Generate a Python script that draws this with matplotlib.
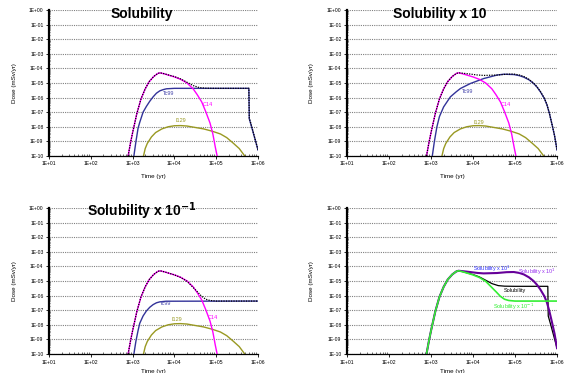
import numpy as np
import matplotlib
matplotlib.use("Agg")
import matplotlib.pyplot as plt
from matplotlib.ticker import LogLocator, FuncFormatter, NullFormatter

plt.rcParams['font.family'] = ['Liberation Sans', 'DejaVu Sans']

# ---- data (time in yr, dose in mSv/yr) ----
t_c14 = [780, 890, 1000, 1260, 1580, 2000, 2500, 3200, 4000, 4500, 5600, 7900,
         1.0e4, 1.4e4, 2.0e4, 2.8e4, 3.5e4, 4.5e4, 5.6e4, 7.1e4, 8.3e4, 9.5e4, 1.05e5]
d_c14 = [1e-10, 7.9e-10, 4.0e-9, 7.9e-8, 7.9e-7, 4.0e-6, 1.26e-5, 2.8e-5, 4.5e-5, 5.0e-5,
         4.3e-5, 3.2e-5, 2.6e-5, 1.8e-5, 1.0e-5, 4.0e-6, 1.6e-6, 5.0e-7, 1.1e-7, 1.8e-8,
         3.2e-9, 4.0e-10, 1e-10]

t_i129 = [1820, 2000, 2240, 2820, 3550, 5000, 7100, 1.0e4, 1.41e4, 2.0e4, 3.16e4, 5.0e4,
          7.9e4, 1.26e5, 1.78e5, 2.5e5, 3.55e5, 4.8e5]
d_i129 = [1e-10, 3.2e-10, 7.1e-10, 2.0e-9, 4.0e-9, 7.1e-9, 1.0e-8, 1.17e-8, 1.2e-8, 1.12e-8,
          8.9e-9, 7.1e-9, 5.0e-9, 3.2e-9, 1.8e-9, 7.9e-10, 3.2e-10, 1e-10]

# Tc99, one per solubility case
t_tc_sol = [1072, 1202, 1349, 1479, 1778, 2138, 2570, 3090, 3715, 4467, 5370, 6457, 1.0e4,
            6.03e5, 6.17e5, 7.08e5, 1.0e6]
d_tc_sol = [1e-10, 1e-9, 7.9e-9, 2.0e-8, 1.0e-7, 2.5e-7, 5.6e-7, 1.12e-6, 2.0e-6, 2.9e-6,
            3.5e-6, 4.0e-6, 4.3e-6, 4.3e-6, 3.5e-8, 8.9e-9, 2.5e-10]

t_tc_x10 = [1072, 1202, 1380, 1585, 1995, 2884, 3981, 5012, 8710, 1.778e4, 3.715e4, 5.37e4,
            9.33e4, 1.26e5, 1.62e5, 2.14e5, 2.75e5, 3.31e5, 3.98e5, 5.01e5, 5.75e5, 6.61e5,
            7.59e5, 8.71e5, 1.0e6]
d_tc_x10 = [1e-10, 1e-9, 1e-8, 5.0e-8, 2.3e-7, 1.12e-6, 2.5e-6, 4.2e-6, 9.3e-6, 2.0e-5,
            3.5e-5, 4.0e-5, 3.8e-5, 3.2e-5, 2.5e-5, 1.66e-5, 9.5e-6, 5.4e-6, 2.6e-6, 8.5e-7,
            3.2e-7, 7.9e-8, 1.45e-8, 2.5e-9, 2.5e-10]

t_tc_x01 = [1072, 1202, 1349, 1479, 1778, 2138, 2570, 3090, 3715, 4467, 6310, 1.0e6]
d_tc_x01 = [1e-10, 7.9e-10, 4.0e-9, 1.26e-8, 4.0e-8, 8.9e-8, 1.58e-7, 2.4e-7, 3.2e-7,
            3.7e-7, 4.1e-7, 4.2e-7]

# total dose, one per solubility case
t_tot_sol = [780, 890, 1000, 1260, 1580, 2000, 2500, 3200, 4000, 4500, 5600, 7900, 1.0e4,
             1.41e4, 2.0e4, 2.82e4, 3.98e4, 5.62e4, 1.0e5, 6.03e5, 6.17e5, 7.08e5, 1.0e6]
d_tot_sol = [1e-10, 7.9e-10, 4.0e-9, 7.9e-8, 7.9e-7, 4.0e-6, 1.26e-5, 2.8e-5, 4.5e-5, 5.0e-5,
             4.4e-5, 3.3e-5, 2.75e-5, 1.9e-5, 1.12e-5, 6.6e-6, 4.8e-6, 4.4e-6, 4.3e-6, 4.3e-6,
             4.0e-8, 1.0e-8, 2.5e-10]

t_tot_x10 = [780, 890, 1000, 1260, 1580, 2000, 2500, 3200, 4000, 4500, 5620, 7940, 1.26e4,
             1.78e4, 3.72e4, 6.31e4, 9.33e4, 1.26e5, 1.62e5, 2.14e5, 2.75e5, 3.31e5, 3.98e5,
             5.01e5, 5.75e5, 6.61e5, 7.59e5, 8.71e5, 1.0e6]
d_tot_x10 = [1e-10, 7.9e-10, 4.0e-9, 7.9e-8, 7.9e-7, 4.0e-6, 1.26e-5, 2.8e-5, 4.5e-5, 5.0e-5,
             4.7e-5, 4.2e-5, 3.55e-5, 3.3e-5, 3.5e-5, 4.0e-5, 4.1e-5, 3.55e-5, 2.8e-5, 1.78e-5,
             1.0e-5, 5.6e-6, 2.7e-6, 8.9e-7, 3.3e-7, 7.9e-8, 1.45e-8, 2.5e-9, 2.5e-10]

t_tot_x01 = [780, 890, 1000, 1260, 1580, 2000, 2500, 3200, 4000, 4500, 5620, 7940, 1.0e4,
             1.41e4, 2.0e4, 2.82e4, 3.55e4, 4.47e4, 5.62e4, 7.08e4, 1.0e5, 1.0e6]
d_tot_x01 = [1e-10, 7.9e-10, 4.0e-9, 7.9e-8, 7.9e-7, 4.0e-6, 1.26e-5, 2.8e-5, 4.5e-5, 5.0e-5,
             4.3e-5, 3.2e-5, 2.6e-5, 1.74e-5, 9.5e-6, 3.5e-6, 1.8e-6, 8.9e-7, 5.6e-7, 4.6e-7,
             4.2e-7, 4.2e-7]

C_C14 = '#ff00ff'
C_TC = '#333399'
C_I = '#999922'


def e_fmt(v, pos):
    return "1E%+03d" % int(round(np.log10(v)))


def setup(ax, xlab_y=-0.125):
    ax.set_xscale('log')
    ax.set_yscale('log')
    ax.set_xlim(1e1, 1e6)
    ax.set_ylim(1e-10, 1e0)
    ax.xaxis.set_major_locator(LogLocator(base=10, numticks=10))
    ax.yaxis.set_major_locator(LogLocator(base=10, numticks=12))
    ax.xaxis.set_minor_locator(LogLocator(base=10, subs=np.arange(2, 10), numticks=20))
    ax.yaxis.set_minor_locator(LogLocator(base=10, subs=np.arange(2, 10), numticks=20))
    ax.xaxis.set_major_formatter(FuncFormatter(e_fmt))
    ax.yaxis.set_major_formatter(FuncFormatter(e_fmt))
    ax.xaxis.set_minor_formatter(NullFormatter())
    ax.yaxis.set_minor_formatter(NullFormatter())
    ax.tick_params(which='major', labelsize=3.6, length=2.5, width=0.6, pad=1.5)
    ax.tick_params(axis='x', which='minor', direction='in', length=1.5, width=0.4)
    ax.tick_params(axis='y', which='minor', direction='inout', length=2, width=0.4)
    for s in ['top', 'right']:
        ax.spines[s].set_visible(False)
    ax.spines['left'].set_linewidth(1.6)
    ax.spines['bottom'].set_linewidth(0.9)
    ax.set_axisbelow(True)
    ax.grid(True, which='major', axis='y', color='0.5', linestyle=(0, (1, 1)), linewidth=0.8)
    ax.set_xlabel('Time (yr)', fontsize=4.5)
    ax.set_ylabel('Dose (mSv/yr)', fontsize=4.5)
    ax.xaxis.set_label_coords(0.5, xlab_y)
    ax.yaxis.set_label_coords(-0.155, 0.5)


def nuclide_panel(ax, t_tc, d_tc, t_tot, d_tot, title, labels, xlab_y=-0.125):
    setup(ax, xlab_y)
    ax.plot(t_i129, d_i129, color=C_I, lw=1.0)
    ax.plot(t_tc, d_tc, color=C_TC, lw=1.0)
    ax.plot(t_c14, d_c14, color=C_C14, lw=1.0)
    ax.plot(t_tot, d_tot, color='black', lw=0.9, linestyle=(0, (1, 1)))
    for txt, col, (x, y) in zip(['Tc99', 'C14', 'I129'], ['#4444aa', C_C14, C_I], labels):
        ax.text(x, y, txt, color=col, fontsize=4, ha='center', va='center')
    ax.text(0.443, 0.975, title, transform=ax.transAxes, ha='center', va='center',
            fontsize=10, fontweight='bold')


fig = plt.figure(figsize=(5.68, 3.73), dpi=100)
ax1 = fig.add_axes([0.0863, 0.582, 0.368, 0.391])
ax2 = fig.add_axes([0.611, 0.582, 0.3697, 0.391])
ax3 = fig.add_axes([0.0863, 0.051, 0.368, 0.3915])
ax4 = fig.add_axes([0.611, 0.051, 0.3697, 0.3915])

nuclide_panel(ax1, t_tc_sol, d_tc_sol, t_tot_sol, d_tot_sol, 'Solubility',
              [(7400, 2e-6), (6.3e4, 3.2e-7), (1.45e4, 2.5e-8)])
nuclide_panel(ax2, t_tc_x10, d_tc_x10, t_tot_x10, d_tot_x10, 'Solubility x 10',
              [(7400, 2.5e-6), (6.2e4, 3.3e-7), (1.35e4, 2.1e-8)])
nuclide_panel(ax3, t_tc_x01, d_tc_x01, t_tot_x01, d_tot_x01, 'Solubility x 10$^{\\mathbf{-1}}$',
              [(6300, 2.7e-7), (8.3e4, 3.3e-8), (1.15e4, 2.3e-8)], xlab_y=-0.105)

# comparison of total dose
setup(ax4, xlab_y=-0.105)
ax4.plot(t_tot_sol, d_tot_sol, color='black', lw=0.9)
ax4.plot(t_tot_x10, d_tot_x10, color='#660099', lw=1.5)
ax4.plot(t_tot_x01, d_tot_x01, color='#33ee33', lw=1.2)
ax4.text(2.8e4, 6.9e-5, 'Solubility x 10$^1$', color='#3333ff', fontsize=4, ha='center', va='center')
ax4.text(3.3e5, 4.4e-5, 'Solubility x 10$^1$', color='#9933ee', fontsize=4, ha='center', va='center')
ax4.text(1.0e5, 2.4e-6, 'Solubility', color='black', fontsize=4, ha='center', va='center')
ax4.text(9.3e4, 1.8e-7, 'Solubility x 10$^{-1}$', color='#33ee33', fontsize=4, ha='center', va='center')

fig.savefig('out.png', dpi=100)
